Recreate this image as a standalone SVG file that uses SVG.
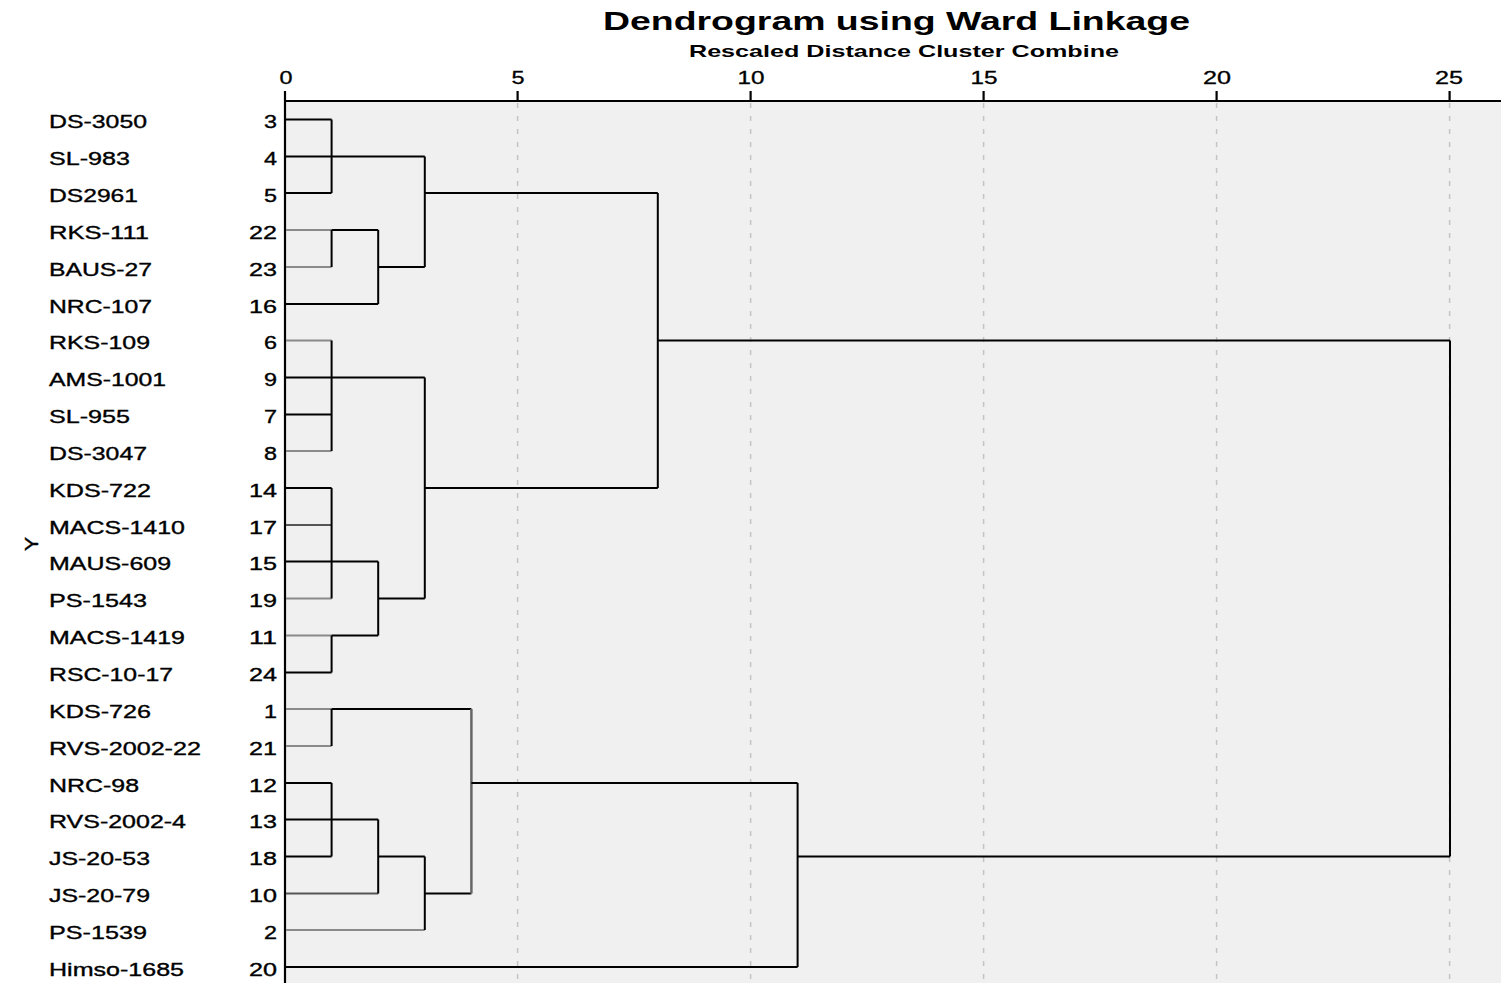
<svg xmlns="http://www.w3.org/2000/svg" width="1501" height="983" viewBox="0 0 1501 983">
<style>
text{font-family:"Liberation Sans",Arial,sans-serif;fill:#000}
.lab{font-size:18px;stroke:#000;stroke-width:0.35}
.num{font-size:18px;text-anchor:end;stroke:#000;stroke-width:0.35}
.tick{font-size:17.5px;text-anchor:middle;stroke:#000;stroke-width:0.3}
.ttl{font-size:25px;font-weight:bold;text-anchor:middle}
.sub{font-size:17px;font-weight:bold;text-anchor:middle}
.k{stroke:#000;stroke-width:2;fill:none}
.g{stroke:#8a8a8a;stroke-width:2;fill:none}
.ax{stroke:#000;stroke-width:2.2;fill:none}
.grid{stroke:#c4c4c4;stroke-width:1.5;stroke-dasharray:5 8;fill:none}
</style>
<rect x="0" y="0" width="1501" height="983" fill="#fff"/>
<rect x="286" y="102" width="1215" height="881" fill="#f0f0f0"/>
<g id="title">
<text class="ttl" x="896.5" y="30" textLength="587" lengthAdjust="spacingAndGlyphs">Dendrogram using Ward Linkage</text>
<text class="sub" x="904" y="57" textLength="430" lengthAdjust="spacingAndGlyphs">Rescaled Distance Cluster Combine</text>
</g>
<g id="axis">
<path class="grid" d="M517.6 103V983M750.6 103V983M983.6 103V983M1216.6 103V983M1449.6 103V983"/>
<path class="ax" d="M285 91V983M285 101H1501M517.6 91V101M750.6 91V101M983.6 91V101M1216.6 91V101M1449.6 91V101"/>
<text class="tick" x="286" y="84" textLength="13" lengthAdjust="spacingAndGlyphs">0</text>
<text class="tick" x="518" y="84" textLength="13" lengthAdjust="spacingAndGlyphs">5</text>
<text class="tick" x="751" y="84" textLength="27" lengthAdjust="spacingAndGlyphs">10</text>
<text class="tick" x="984" y="84" textLength="27" lengthAdjust="spacingAndGlyphs">15</text>
<text class="tick" x="1217" y="84" textLength="28" lengthAdjust="spacingAndGlyphs">20</text>
<text class="tick" x="1449" y="84" textLength="28" lengthAdjust="spacingAndGlyphs">25</text>
<text class="lab" transform="translate(38,544) rotate(-90)" text-anchor="middle" textLength="14" lengthAdjust="spacingAndGlyphs">Y</text>
</g>
<g id="leaves">
<g id="n3"><text class="lab" x="49" y="128" textLength="98" lengthAdjust="spacingAndGlyphs">DS-3050</text><text class="num" x="277" y="128" textLength="13" lengthAdjust="spacingAndGlyphs">3</text></g>
<g id="n4"><text class="lab" x="49" y="165" textLength="81" lengthAdjust="spacingAndGlyphs">SL-983</text><text class="num" x="277" y="165" textLength="13" lengthAdjust="spacingAndGlyphs">4</text></g>
<g id="n5"><text class="lab" x="49" y="201.5" textLength="89" lengthAdjust="spacingAndGlyphs">DS2961</text><text class="num" x="277" y="201.5" textLength="13" lengthAdjust="spacingAndGlyphs">5</text></g>
<g id="n22"><text class="lab" x="49" y="238.5" textLength="100" lengthAdjust="spacingAndGlyphs">RKS-111</text><text class="num" x="277" y="238.5" textLength="28" lengthAdjust="spacingAndGlyphs">22</text></g>
<g id="n23"><text class="lab" x="49" y="275.5" textLength="103" lengthAdjust="spacingAndGlyphs">BAUS-27</text><text class="num" x="277" y="275.5" textLength="28" lengthAdjust="spacingAndGlyphs">23</text></g>
<g id="n16"><text class="lab" x="49" y="312.5" textLength="103" lengthAdjust="spacingAndGlyphs">NRC-107</text><text class="num" x="277" y="312.5" textLength="28" lengthAdjust="spacingAndGlyphs">16</text></g>
<g id="n6"><text class="lab" x="49" y="349" textLength="101" lengthAdjust="spacingAndGlyphs">RKS-109</text><text class="num" x="277" y="349" textLength="13" lengthAdjust="spacingAndGlyphs">6</text></g>
<g id="n9"><text class="lab" x="49" y="386" textLength="117" lengthAdjust="spacingAndGlyphs">AMS-1001</text><text class="num" x="277" y="386" textLength="13" lengthAdjust="spacingAndGlyphs">9</text></g>
<g id="n7"><text class="lab" x="49" y="423" textLength="81" lengthAdjust="spacingAndGlyphs">SL-955</text><text class="num" x="277" y="423" textLength="13" lengthAdjust="spacingAndGlyphs">7</text></g>
<g id="n8"><text class="lab" x="49" y="459.5" textLength="98" lengthAdjust="spacingAndGlyphs">DS-3047</text><text class="num" x="277" y="459.5" textLength="13" lengthAdjust="spacingAndGlyphs">8</text></g>
<g id="n14"><text class="lab" x="49" y="496.5" textLength="102" lengthAdjust="spacingAndGlyphs">KDS-722</text><text class="num" x="277" y="496.5" textLength="28" lengthAdjust="spacingAndGlyphs">14</text></g>
<g id="n17"><text class="lab" x="49" y="533.5" textLength="136" lengthAdjust="spacingAndGlyphs">MACS-1410</text><text class="num" x="277" y="533.5" textLength="28" lengthAdjust="spacingAndGlyphs">17</text></g>
<g id="n15"><text class="lab" x="49" y="570" textLength="122" lengthAdjust="spacingAndGlyphs">MAUS-609</text><text class="num" x="277" y="570" textLength="28" lengthAdjust="spacingAndGlyphs">15</text></g>
<g id="n19"><text class="lab" x="49" y="607" textLength="98" lengthAdjust="spacingAndGlyphs">PS-1543</text><text class="num" x="277" y="607" textLength="28" lengthAdjust="spacingAndGlyphs">19</text></g>
<g id="n11"><text class="lab" x="49" y="644" textLength="136" lengthAdjust="spacingAndGlyphs">MACS-1419</text><text class="num" x="277" y="644" textLength="28" lengthAdjust="spacingAndGlyphs">11</text></g>
<g id="n24"><text class="lab" x="49" y="681" textLength="124" lengthAdjust="spacingAndGlyphs">RSC-10-17</text><text class="num" x="277" y="681" textLength="28" lengthAdjust="spacingAndGlyphs">24</text></g>
<g id="n1"><text class="lab" x="49" y="717.5" textLength="102" lengthAdjust="spacingAndGlyphs">KDS-726</text><text class="num" x="277" y="717.5" textLength="13" lengthAdjust="spacingAndGlyphs">1</text></g>
<g id="n21"><text class="lab" x="49" y="754.5" textLength="152" lengthAdjust="spacingAndGlyphs">RVS-2002-22</text><text class="num" x="277" y="754.5" textLength="28" lengthAdjust="spacingAndGlyphs">21</text></g>
<g id="n12"><text class="lab" x="49" y="791.5" textLength="90" lengthAdjust="spacingAndGlyphs">NRC-98</text><text class="num" x="277" y="791.5" textLength="28" lengthAdjust="spacingAndGlyphs">12</text></g>
<g id="n13"><text class="lab" x="49" y="828" textLength="137" lengthAdjust="spacingAndGlyphs">RVS-2002-4</text><text class="num" x="277" y="828" textLength="28" lengthAdjust="spacingAndGlyphs">13</text></g>
<g id="n18"><text class="lab" x="49" y="865" textLength="101" lengthAdjust="spacingAndGlyphs">JS-20-53</text><text class="num" x="277" y="865" textLength="28" lengthAdjust="spacingAndGlyphs">18</text></g>
<g id="n10"><text class="lab" x="49" y="902" textLength="101" lengthAdjust="spacingAndGlyphs">JS-20-79</text><text class="num" x="277" y="902" textLength="28" lengthAdjust="spacingAndGlyphs">10</text></g>
<g id="n2"><text class="lab" x="49" y="938.5" textLength="98" lengthAdjust="spacingAndGlyphs">PS-1539</text><text class="num" x="277" y="938.5" textLength="13" lengthAdjust="spacingAndGlyphs">2</text></g>
<g id="n20"><text class="lab" x="49" y="975.5" textLength="135" lengthAdjust="spacingAndGlyphs">Himso-1685</text><text class="num" x="277" y="975.5" textLength="28" lengthAdjust="spacingAndGlyphs">20</text></g>
</g>
<g id="connectors">
<path class="g" d="M286 230H331.6M286 267H331.6M286 340.5H331.6M286 451H331.6M286 598.5H331.6M286 635.5H331.6M286 709H331.6M286 746H331.6M286 930H424.8"/>
<path class="g" style="stroke:#555" d="M286 525H331.6M286 893.5H378.2"/>
<path class="k" d="M286 119.5H331.6M286 193H331.6M331.6 119.5V193M286 156.5H424.8"/>
<path class="k" d="M331.6 230V267M331.6 230H378.2M286 304H378.2M378.2 230V304M378.2 267H424.8M424.8 156.5V267M424.8 193H657.8"/>
<path class="k" d="M286 377.5H424.8M286 414.5H331.6M331.6 340.5V451"/>
<path class="k" d="M286 488H331.6M286 561.5H378.2M331.6 488V598.5"/>
<path class="k" d="M331.6 635.5H378.2M286 672.5H331.6M331.6 635.5V672.5M378.2 561.5V635.5M378.2 598.5H424.8M424.8 377.5V598.5M424.8 488H657.8M657.8 193V488M657.8 340.5H1450"/>
<path class="k" d="M331.6 709V746M331.6 709H471.4M286 783H331.6M286 819.5H378.2M286 856.5H331.6M331.6 783V856.5M378.2 819.5V893.5M378.2 856.5H424.8M424.8 856.5V930M424.8 893.5H471.4"/>
<path class="k" style="stroke:#666;stroke-width:2.5" d="M471.4 709V893.5"/>
<path class="k" d="M471.4 783H797.6M286 967H797.6M797.6 783V967M797.6 856.5H1450M1450 340.5V856.5"/>
</g>
</svg>
